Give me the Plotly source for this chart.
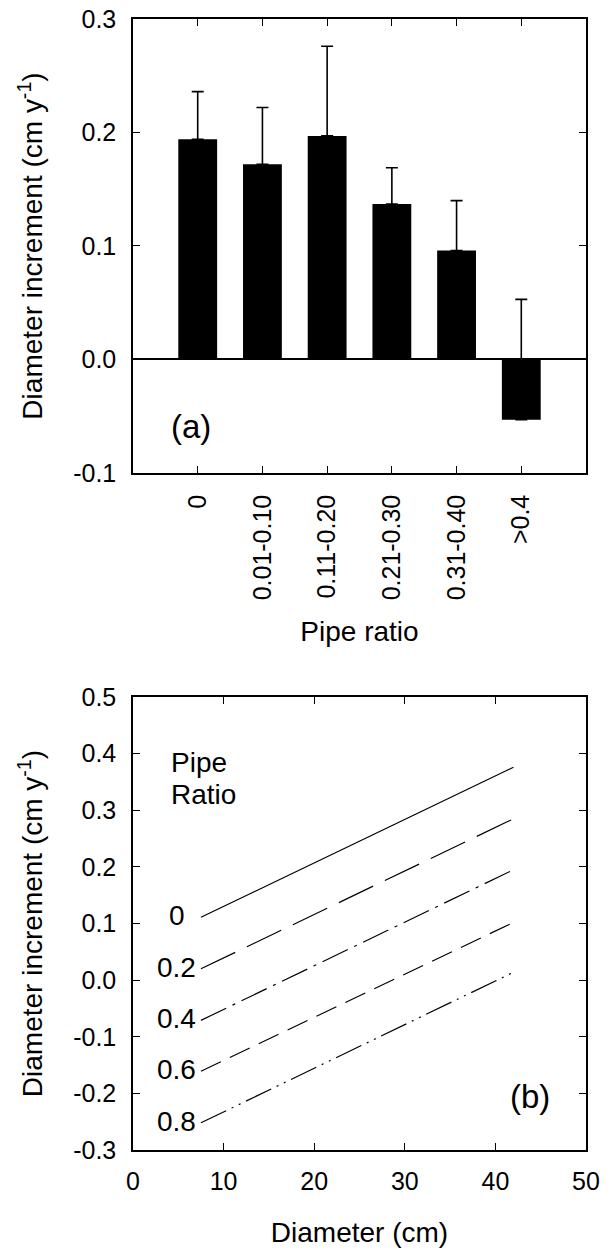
import plotly.graph_objects as go

# ---- Panel (a) data ----
categories = ["0", "0.01-0.10", "0.11-0.20", "0.21-0.30", "0.31-0.40", ">0.4"]
increment = [0.194, 0.172, 0.197, 0.137, 0.096, -0.053]
increment_err = [0.042, 0.050, 0.079, 0.032, 0.044, 0.106]
yticks_a = [-0.1, 0.0, 0.1, 0.2, 0.3]
yticktext_a = ["-0.1", "0.0", "0.1", "0.2", "0.3"]

# ---- Panel (b) data ----
pipe_ratios = ["0", "0.2", "0.4", "0.6", "0.8"]
diameter_span = [7.5, 42.0]
line_start = [0.111, 0.020, -0.071, -0.161, -0.252]
line_end = [0.376, 0.285, 0.195, 0.102, 0.014]
yticks_b = [-0.3, -0.2, -0.1, 0.0, 0.1, 0.2, 0.3, 0.4, 0.5]
yticktext_b = ["-0.3", "-0.2", "-0.1", "0.0", "0.1", "0.2", "0.3", "0.4", "0.5"]
xticks_b = [0, 10, 20, 30, 40, 50]

dash_styles = ["solid", "38px,13px", "28px,7px,3px,7px", "22px,10px",
               "28px,6px,2px,6px,2px,6px"]

FONT = "Liberation Sans, Arial, Helvetica, sans-serif"
TICK_SIZE = 25
TITLE_SIZE = 28

fig = go.Figure()

fig.add_trace(go.Bar(
    x=categories, y=increment, width=0.6,
    marker=dict(color="black", line=dict(width=0)),
    error_y=dict(type="data", symmetric=False, array=increment_err,
                 arrayminus=[0] * len(increment_err),
                 color="black", thickness=1.6, width=6),
    xaxis="x", yaxis="y", showlegend=False, hoverinfo="skip",
))

for name, y0, y1, dash in zip(pipe_ratios, line_start, line_end, dash_styles):
    fig.add_trace(go.Scatter(
        x=diameter_span, y=[y0, y1], mode="lines",
        line=dict(color="black", width=1.2, dash=dash),
        xaxis="x2", yaxis="y2", showlegend=False, name=name,
    ))

axis_common = dict(
    showline=True, linecolor="black", linewidth=1.5, mirror="ticks",
    ticks="inside", ticklen=7, tickwidth=1.3, tickcolor="black",
    showgrid=False, automargin=False, ticklabeloverflow="allow",
    tickfont=dict(family=FONT, size=TICK_SIZE, color="black"),
)

annotations = [
    dict(text="(a)", x=-0.1, y=-0.059, xref="x", yref="y", showarrow=False,
         xanchor="center", yanchor="middle",
         font=dict(family=FONT, size=33, color="black")),
    dict(text="(b)", x=43.8, y=-0.205, xref="x2", yref="y2", showarrow=False,
         xanchor="center", yanchor="middle",
         font=dict(family=FONT, size=33, color="black")),
    dict(text="Pipe", x=4.0, y=0.384, xref="x2", yref="y2",
         showarrow=False, xanchor="left", yanchor="middle",
         font=dict(family=FONT, size=TITLE_SIZE, color="black")),
    dict(text="Ratio", x=4.0, y=0.327, xref="x2", yref="y2",
         showarrow=False, xanchor="left", yanchor="middle",
         font=dict(family=FONT, size=TITLE_SIZE, color="black")),
]
for name, y0 in zip(pipe_ratios, line_start):
    annotations.append(dict(
        text=name, x=4.85, y=y0 + 0.003, xref="x2", yref="y2", showarrow=False,
        xanchor="center", yanchor="middle",
        font=dict(family=FONT, size=TITLE_SIZE, color="black")))

fig.update_layout(
    width=610, height=1249,
    margin=dict(l=125, r=32, t=11, b=107, autoexpand=False),
    paper_bgcolor="white", plot_bgcolor="white",
    font=dict(family=FONT, color="black"),
    xaxis=dict(axis_common, domain=[0, 1], anchor="y", type="category",
               range=[-1, 6], tickangle=-90, ticklabelstandoff=10,
               title=dict(text="Pipe ratio", standoff=22,
                          font=dict(family=FONT, size=TITLE_SIZE))),
    yaxis=dict(axis_common, domain=[0.5986, 1.0], anchor="x", range=[-0.1, 0.3],
               tickvals=yticks_a, ticktext=yticktext_a, ticklabelstandoff=10,
               zeroline=True, zerolinecolor="black", zerolinewidth=1.5,
               title=dict(text="Diameter increment (cm y<sup>-1</sup>)", standoff=22,
                          font=dict(family=FONT, size=TITLE_SIZE))),
    xaxis2=dict(axis_common, domain=[0, 1], anchor="y2", range=[0, 50],
                tickvals=xticks_b, ticklabelstandoff=8, zeroline=False,
                title=dict(text="Diameter (cm)", standoff=29,
                           font=dict(family=FONT, size=TITLE_SIZE))),
    yaxis2=dict(axis_common, domain=[0, 0.4005], anchor="x2", range=[-0.3, 0.5],
                tickvals=yticks_b, ticktext=yticktext_b, ticklabelstandoff=10,
                zeroline=False,
                title=dict(text="Diameter increment (cm y<sup>-1</sup>)", standoff=22,
                           font=dict(family=FONT, size=TITLE_SIZE))),
    annotations=annotations,
    bargap=0.4,
)

fig.write_html("out.html")
